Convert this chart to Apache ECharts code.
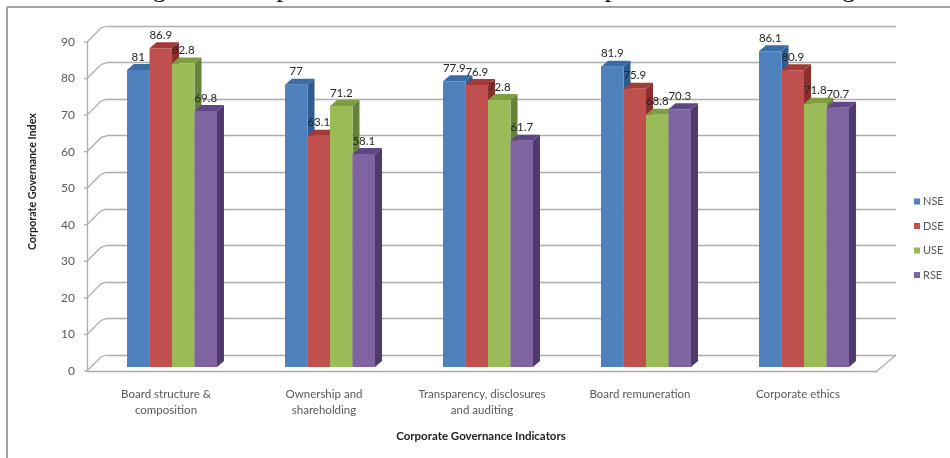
<!DOCTYPE html>
<html>
<head>
<meta charset="utf-8">
<style>html,body{margin:0;padding:0;background:#fff}#c{width:950px;height:458px}</style>
<script src="https://cdn.jsdelivr.net/npm/echarts@6/dist/echarts.min.js"></script>
</head>
<body>
<div id="c"></div>
<script>
const categories = ['Board structure &\ncomposition','Ownership and\nshareholding','Transparency, disclosures\nand auditing','Board remuneration','Corporate ethics'];
const seriesNames = ['NSE','DSE','USE','RSE'];
const nse = [81,77,77.9,81.9,86.1];
const dse = [86.9,63.1,76.9,75.9,80.9];
const use = [82.8,71.2,72.8,68.8,71.8];
const rse = [69.8,58.1,61.7,70.3,70.7];
const yTicks = [0,10,20,30,40,50,60,70,80,90];
const titleText = 'Figure 4: Corporate Governance Indicators per Securities Exchange';
const yName = 'Corporate Governance Index';
const xName = 'Corporate Governance Indicators';

const values = [nse,dse,use,rse];
const front = ['#4F81BD','#C0504D','#9BBB59','#8064A2'];
const top_ = ['#3A6DA6','#A33A37','#7F9E42','#5F4785'];
const side = ['#2F5C8F','#8C2E2B','#66833A','#4F3B70'];
const txt = '#595959', grid = '#adadad', FF = 'Lato, "Open Sans", sans-serif';
const dx = 7, dy = 6, wallDx = 20, wallDy = 16;

function barGeom(api, idx){
  const p = api.coord([api.value(0), api.value(1)]);
  const base = api.coord([api.value(0), 0]);
  const w = api.size([1,0])[0] * 0.1424;
  return {x:p[0] + (idx-2)*w, y:p[1], w:w, h:base[1]-p[1]};
}
function barRender(idx){
  return function(params, api){
    const {x,y,w,h} = barGeom(api, idx);
    return {type:'group', children:[
      {type:'polygon', shape:{points:[[x+w,y],[x+w+dx,y-dy],[x+w+dx,y+h-dy],[x+w,y+h]]}, style:{fill:side[idx]}},
      {type:'polygon', shape:{points:[[x,y],[x+dx,y-dy],[x+w+dx,y-dy],[x+w,y]]}, style:{fill:top_[idx]}},
      {type:'rect', shape:{x:x,y:y,width:w,height:h}, style:{fill:front[idx]}}
    ]};
  };
}
function labelRender(idx){
  return function(params, api){
    const {x,y,w} = barGeom(api, idx);
    return {type:'text', style:{x:x+w/2,y:y-13,text:String(api.value(1)),fill:'#262626',font:'11.5px '+FF,align:'center',verticalAlign:'middle'}};
  };
}
function connectorRender(params, api){
  const p = api.coord([0, api.value(0)]);
  const cs = params.coordSys;
  const x0 = cs.x, y = p[1];
  const kids = [{type:'line', shape:{x1:x0-3,y1:y,x2:x0,y2:y}, style:{stroke:grid,lineWidth:1.3}},
                {type:'polyline', shape:{points:[[x0,y],[x0+wallDx-6,y-wallDy+2],[x0+wallDx,y-wallDy]]}, style:{stroke:grid,lineWidth:1.3,fill:null}}];
  if(api.value(0)===0){
    const xr = cs.x+cs.width;
    kids.push({type:'line', shape:{x1:xr,y1:y,x2:xr+wallDx-1,y2:y-wallDy}, style:{stroke:grid,lineWidth:1.3}});
  }
  return {type:'group',children:kids};
}

const chart = echarts.init(document.getElementById('c'),null,{renderer:'canvas'});
chart.setOption({
  animation:false,
  backgroundColor:'#fff',
  grid:[
    {left:87, width:790, top:42, height:329},
    {left:107,width:789, top:26, height:329},
    {left:93, width:790, top:37, height:330}
  ],
  xAxis:[
    {gridIndex:0,type:'category',data:categories,axisTick:{show:false},
     axisLine:{lineStyle:{color:grid,width:1.3}},
     axisLabel:{color:txt,fontFamily:FF,fontSize:11.5,lineHeight:16,margin:15,interval:0}},
    {gridIndex:1,type:'category',data:categories,show:false},
    {gridIndex:2,type:'category',data:categories,show:false}
  ],
  yAxis:[
    {gridIndex:0,type:'value',min:0,max:90,interval:10,splitLine:{show:false},
     axisLine:{show:true,lineStyle:{color:grid,width:1.3}},axisTick:{show:false},
     axisLabel:{color:txt,fontFamily:FF,fontSize:12,margin:12}},
    {gridIndex:1,type:'value',min:0,max:90,interval:10,axisLine:{show:false},axisTick:{show:false},axisLabel:{show:false},
     splitLine:{show:true,lineStyle:{color:grid,width:1.3}}},
    {gridIndex:2,type:'value',min:0,max:90,interval:10,show:false,splitLine:{show:false}}
  ],
  legend:{data:seriesNames,orient:'vertical',left:909,top:191,itemWidth:6,itemHeight:6,itemGap:13.5,icon:'rect',
    textStyle:{color:txt,fontFamily:FF,fontSize:11,padding:[0,0,0,-2]}},
  graphic:[
    {type:'line',shape:{x1:7,y1:7,x2:950,y2:7},style:{stroke:'#a3a3a3',lineWidth:2}},
    {type:'line',shape:{x1:7,y1:7,x2:7,y2:458},style:{stroke:'#a3a3a3',lineWidth:2}},
    {type:'text',left:130,top:-25,style:{text:titleText,fill:'#111',font:'27.2px "Liberation Serif", serif'}},
    {type:'text',rotation:Math.PI/2,x:27,y:250,style:{text:yName,fill:'#222',font:'bold 10.7px '+FF,align:'left',verticalAlign:'top'}},
    {type:'text',x:481,y:436,style:{text:xName,fill:'#222',font:'bold 11.5px '+FF,align:'center',verticalAlign:'middle'}}
  ],
  series:[
    {type:'custom',name:'axisframe',xAxisIndex:0,yAxisIndex:0,silent:true,z:1,clip:false,
     data:yTicks.map(v=>[v]),encode:{y:0},renderItem:connectorRender},
    ...seriesNames.map((n,i)=>({
      type:'custom',name:n,xAxisIndex:2,yAxisIndex:2,z:3,clip:false,
      itemStyle:{color:front[i]},
      data:values[i].map((v,c)=>[c,v]),encode:{x:0,y:1},renderItem:barRender(i)
    })),
    ...seriesNames.map((n,i)=>({
      type:'custom',name:n,xAxisIndex:2,yAxisIndex:2,z:6,zlevel:1,clip:false,silent:true,
      itemStyle:{color:front[i]},
      data:values[i].map((v,c)=>[c,v]),encode:{x:0,y:1},renderItem:labelRender(i)
    }))
  ]
});
</script>
</body>
</html>
